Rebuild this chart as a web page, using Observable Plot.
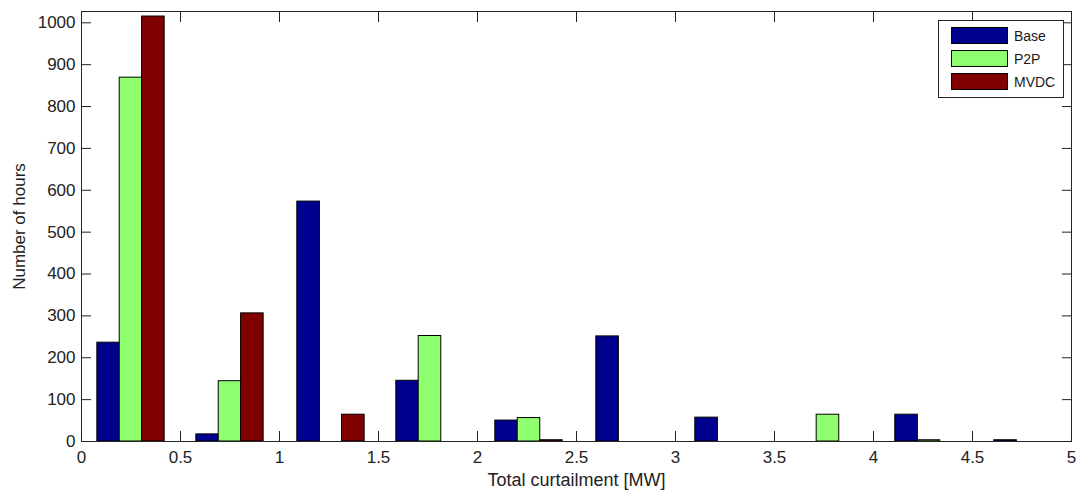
<!DOCTYPE html>
<html><head><meta charset="utf-8">
<script src="https://cdn.jsdelivr.net/npm/d3@7"></script>
<script src="https://cdn.jsdelivr.net/npm/@observablehq/plot@0.6"></script>
<style>
body{margin:0;background:#fff;}
#wrap{position:relative;width:1078px;height:493px;font-family:"Liberation Sans",Arial,sans-serif;}
#legend{position:absolute;left:938px;top:20px;width:126px;height:78px;box-sizing:border-box;border:1px solid #262626;background:#fff;}
.item{position:absolute;left:12px;height:17px;display:flex;align-items:center;}
.sw{width:57px;height:17px;box-sizing:border-box;border:1px solid #000;}
.lab{margin-left:6px;font-size:14px;color:#1a1a1a;}
</style></head>
<body>
<div id="wrap"><div id="legend"></div></div>
<script>
const centers = [0.25, 0.75, 1.26, 1.76, 2.26, 2.77, 3.27, 3.77, 4.28, 4.78];
const base = [236, 17, 573, 145, 50, 251, 57, 0, 64, 3];
const p2p  = [869, 144, 0, 252, 56, 0, 0, 64, 3, 0];
const mvdc = [1015, 306, 64, 0, 3, 0, 0, 0, 0, 0];
const seriesNames = ["Base", "P2P", "MVDC"];
const seriesColors = ["#00008F", "#8FFF70", "#800000"];
const xTicks = [0, 0.5, 1, 1.5, 2, 2.5, 3, 3.5, 4, 4.5, 5];
const yTicks = [0, 100, 200, 300, 400, 500, 600, 700, 800, 900, 1000];
const xLabel = "Total curtailment [MW]";
const yLabel = "Number of hours";

const offsets = [-0.113, 0, 0.113];
const barW = 0.114;
const seriesVals = [base, p2p, mvdc];
const rows = [];
seriesVals.forEach((vals, s) => {
  vals.forEach((v, i) => {
    if (v > 0) rows.push({series: seriesNames[s], c: centers[i] + offsets[s], value: v});
  });
});

const chart = Plot.plot({
  width: 1078, height: 493,
  marginLeft: 81, marginRight: 7, marginTop: 11, marginBottom: 52,
  style: {fontFamily: "'Liberation Sans', Arial, sans-serif", fontSize: "17px", color: "#222", background: "#fff"},
  x: {domain: [0, 5]},
  y: {domain: [0, 1027]},
  color: {domain: seriesNames, range: seriesColors},
  marks: [
    Plot.rect(rows, {x1: d => d.c - barW / 2, x2: d => d.c + barW / 2, y1: 0, y2: "value", fill: "series", stroke: "#000", strokeWidth: 1}),
    Plot.frame({stroke: "#262626"}),
    Plot.axisX({ticks: xTicks, tickSize: -10, tickPadding: 19, tickFormat: d => String(d), label: null}),
    Plot.axisX({anchor: "top", ticks: xTicks, tickSize: -10, tickFormat: () => "", label: null}),
    Plot.axisY({ticks: yTicks, tickSize: -10, tickPadding: 16, tickFormat: d => String(d), label: null}),
    Plot.axisY({anchor: "right", ticks: yTicks, tickSize: -10, tickFormat: () => "", label: null}),
    Plot.text([xLabel], {frameAnchor: "bottom", dy: 39, textAnchor: "middle", lineAnchor: "middle", fontSize: 18, fill: "#222"}),
    Plot.text([yLabel], {frameAnchor: "left", dx: -62, rotate: -90, textAnchor: "middle", lineAnchor: "middle", fontSize: 17, fill: "#222"})
  ]
});
document.getElementById("wrap").prepend(chart);

const legend = document.getElementById("legend");
const legendTops = [6, 29, 52];
seriesNames.forEach((name, i) => {
  const item = document.createElement("div");
  item.className = "item";
  item.style.top = legendTops[i] + "px";
  const sw = document.createElement("div");
  sw.className = "sw";
  sw.style.background = seriesColors[i];
  const lab = document.createElement("span");
  lab.className = "lab";
  lab.textContent = name;
  item.appendChild(sw); item.appendChild(lab);
  legend.appendChild(item);
});
</script>
</body></html>
